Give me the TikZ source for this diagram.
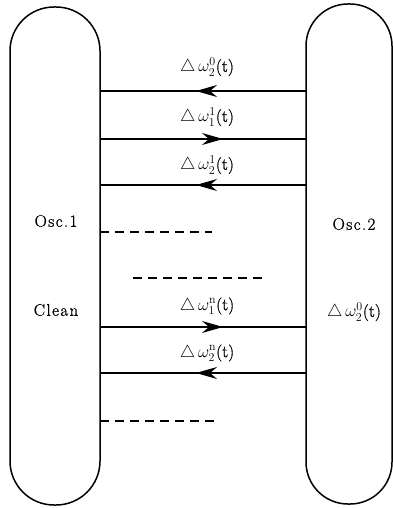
\documentclass[tikz,border=0pt]{standalone}
\usepackage{fontspec}
\newfontfamily\spaced{Latin Modern Roman}[LetterSpace=8,FakeBold=0.8]
\newfontfamily\lblfont{Latin Modern Roman}[FakeBold=0.8]
\usetikzlibrary{arrows.meta,decorations.markings}
\begin{document}
\begin{tikzpicture}[x=1pt,y=-1pt,
  pill/.style={draw,line width=1.5pt,rounded corners=44pt,minimum width=90pt,minimum height=498pt,inner sep=0pt},
  sig/.style={line width=1.8pt},
  tipr/.style={sig,postaction={decorate},decoration={markings,mark=at position 123pt with {\arrow{Stealth[length=21pt,width=12pt,inset=7pt]}}}},
  tipl/.style={sig,postaction={decorate},decoration={markings,mark=at position 110pt with {\arrow{Stealth[length=21pt,width=12pt,inset=7pt]}}}},
  dashline/.style={line width=1.8pt,dash pattern=on 9pt off 6pt},
  lbl/.style={font=\fontsize{17}{19}\lblfont,inner sep=0pt},
  txt/.style={font=\fontsize{17}{19}\spaced,inner sep=0pt}]
\useasboundingbox (0,0) rectangle (392,508);
\node[pill] (osc1) at (55,256) {};
\node[pill,minimum width=86pt,minimum height=500pt,rounded corners=42pt] (osc2) at (349,254) {};
% signals
\coordinate (a0) at (100,91);  \coordinate (b0) at (306,91);
\coordinate (a1) at (100,139); \coordinate (b1) at (306,139);
\coordinate (a2) at (100,185); \coordinate (b2) at (306,185);
\coordinate (a3) at (100,327); \coordinate (b3) at (306,327);
\coordinate (a4) at (100,373); \coordinate (b4) at (306,373);
\draw[tipl] (b0) -- (a0);
\draw[tipr] (a1) -- (b1);
\draw[tipl] (b2) -- (a2);
\draw[tipr] (a3) -- (b3);
\draw[tipl] (b4) -- (a4);
\node[lbl] (l0) at (207,67) {$\triangle\,\omega_2^0$(t)};
\node[lbl] (l1) at (207,117) {$\triangle\,\omega_1^1$(t)};
\node[lbl] (l2) at (207,165) {$\triangle\,\omega_2^1$(t)};
\node[lbl] (l3) at (207,306) {$\triangle\,\omega_1^{\mathrm{n}}$(t)};
\node[lbl] (l4) at (207,353) {$\triangle\,\omega_2^{\mathrm{n}}$(t)};
% dashed
\coordinate (d1a) at (100,232); \coordinate (d1b) at (212,232);
\coordinate (d2a) at (133,278); \coordinate (d2b) at (263,278);
\coordinate (d3a) at (100,421); \coordinate (d3b) at (216,421);
\draw[dashline] (d1a) -- (d1b);
\draw[dashline] (d2a) -- (d2b);
\draw[dashline] (d3a) -- (d3b);
% texts
\node[txt] (t1) at (56,221) {Osc.1};
\node[txt] (t2) at (56,310) {Clean};
\node[txt] (t3) at (354,224) {Osc.2};
\node[lbl] (t4) at (354,312) {$\triangle\,\omega_2^0$(t)};
\end{tikzpicture}
\end{document}
